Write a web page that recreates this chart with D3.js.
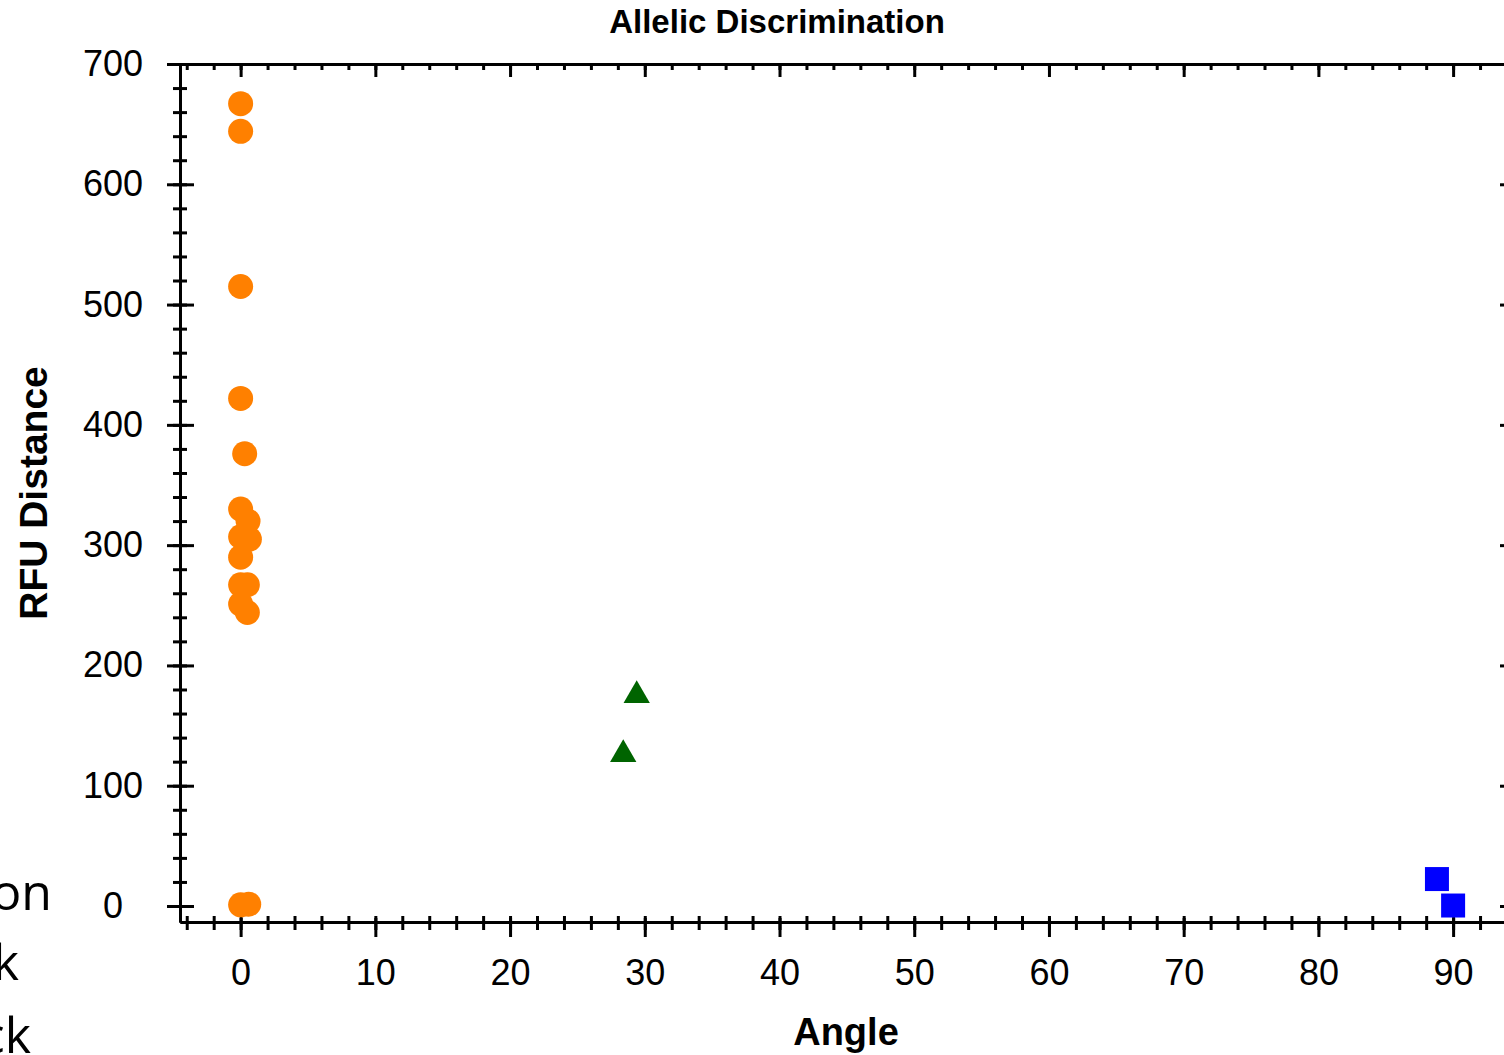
<!DOCTYPE html>
<html>
<head>
<meta charset="utf-8">
<script src="https://cdn.jsdelivr.net/npm/d3@7"></script>
<style>
  body { margin: 0; background: #fff; }
  svg { display: block; font-family: "Liberation Sans", Arial, sans-serif; }
</style>
</head>
<body>
<div id="chart"></div>
<script>
// Allele 1 calls (orange circles)
var allele1Angle = [0, 0, 0, 0, 0.3, 0, 0.55, 0, 0.65, 0, 0, 0.5, 0, 0.5, 0, 0.6];
var allele1Rfu = [667, 644, 515, 422, 376, 330, 320, 307, 305, 290, 267, 267, 251, 244, 1, 1.5];

// Heterozygote calls (green triangles)
var heteroAngle = [29.4, 28.4];
var heteroRfu = [175, 126];

// Allele 2 calls (blue squares)
var allele2Angle = [88.8, 90.0];
var allele2Rfu = [22.4, 0.4];

// Tick values
var xTickValues = [0, 10, 20, 30, 40, 50, 60, 70, 80, 90];
var yTickValues = [0, 100, 200, 300, 400, 500, 600, 700];

// Text cut off at the left edge of the slide
var slideText = ["on", "k", "ck"];

var svgWidth = 1504;
var svgHeight = 1055;

var svg = d3.select("#chart")
  .append("svg")
  .attr("width", svgWidth)
  .attr("height", svgHeight);

var x = d3.scaleLinear().domain([-4.5, 94]).range([180, 1507]);
var y = d3.scaleLinear().domain([-13.3, 700]).range([922, 64]);

var fontFamily = '"Liberation Sans", Arial, sans-serif';

function styleAxis(g) {
  g.attr("font-family", fontFamily).attr("font-size", 36);
  g.select(".domain").attr("stroke", "#000").attr("stroke-width", 3);
  g.selectAll(".tick line").attr("stroke", "#000").attr("stroke-width", 3);
  g.selectAll(".tick text").attr("fill", "#000");
}

// Bottom axis: minor then major ticks, both crossing the line
var bottomMinor = svg.append("g")
  .attr("transform", "translate(0,922)")
  .call(d3.axisBottom(x).tickValues(d3.range(-4, 94, 2)).tickFormat("").tickSizeOuter(0));
styleAxis(bottomMinor);
bottomMinor.selectAll(".tick line").attr("y1", -6).attr("y2", 8);

var bottomMajor = svg.append("g")
  .attr("transform", "translate(0,922)")
  .call(d3.axisBottom(x).tickValues(xTickValues).tickSizeOuter(0));
styleAxis(bottomMajor);
bottomMajor.selectAll(".tick line").attr("y1", -4).attr("y2", 15);
bottomMajor.selectAll(".tick text").attr("y", 63).attr("dy", 0);

// Top axis, ticks pointing inward
var topMinor = svg.append("g")
  .attr("transform", "translate(0,64)")
  .call(d3.axisTop(x).tickValues(d3.range(-4, 94, 2)).tickFormat("").tickSizeOuter(0));
styleAxis(topMinor);
topMinor.selectAll(".tick line").attr("y1", 0).attr("y2", 6);

var topMajor = svg.append("g")
  .attr("transform", "translate(0,64)")
  .call(d3.axisTop(x).tickValues(xTickValues).tickFormat("").tickSizeOuter(0));
styleAxis(topMajor);
topMajor.select(".domain").remove();
topMajor.selectAll(".tick line").attr("y1", 0).attr("y2", 13);

// Left axis
var leftMinor = svg.append("g")
  .attr("transform", "translate(180,0)")
  .call(d3.axisLeft(y).tickValues(d3.range(0, 701, 20)).tickFormat("").tickSizeOuter(0));
styleAxis(leftMinor);
leftMinor.selectAll(".tick line").attr("x1", -7).attr("x2", 7);

var leftMajor = svg.append("g")
  .attr("transform", "translate(180,0)")
  .call(d3.axisLeft(y).tickValues(yTickValues).tickSizeOuter(0));
styleAxis(leftMajor);
leftMajor.selectAll(".tick line").attr("x1", -13).attr("x2", 14);
leftMajor.selectAll(".tick text")
  .attr("x", -67)
  .attr("text-anchor", "middle");

// Right axis (line sits just past the edge)
var rightMajor = svg.append("g")
  .attr("transform", "translate(1507,0)")
  .call(d3.axisRight(y).tickValues(yTickValues).tickFormat("").tickSizeOuter(0));
styleAxis(rightMajor);
rightMajor.selectAll(".tick line").attr("x1", 0).attr("x2", -7);

// Allele 1 circles
svg.append("g")
  .selectAll("circle")
  .data(d3.zip(allele1Angle, allele1Rfu))
  .enter()
  .append("circle")
  .attr("cx", d => x(d[0]))
  .attr("cy", d => y(d[1]))
  .attr("r", 12.5)
  .attr("fill", "#ff8000");

// Heterozygote triangles
svg.append("g")
  .selectAll("path")
  .data(d3.zip(heteroAngle, heteroRfu))
  .enter()
  .append("path")
  .attr("d", d3.symbol().type(d3.symbolTriangle).size(300))
  .attr("transform", d => "translate(" + x(d[0]) + "," + y(d[1]) + ")")
  .attr("fill", "#006400");

// Allele 2 squares
svg.append("g")
  .selectAll("path")
  .data(d3.zip(allele2Angle, allele2Rfu))
  .enter()
  .append("path")
  .attr("d", d3.symbol().type(d3.symbolSquare).size(576))
  .attr("transform", d => "translate(" + x(d[0]) + "," + y(d[1]) + ")")
  .attr("fill", "#0000ff");

// Titles
svg.append("text")
  .attr("x", 777)
  .attr("y", 33)
  .attr("text-anchor", "middle")
  .attr("font-size", 33)
  .attr("font-weight", "bold")
  .text("Allelic Discrimination");

svg.append("text")
  .attr("transform", "translate(47,493) rotate(-90)")
  .attr("text-anchor", "middle")
  .attr("font-size", 39)
  .attr("font-weight", "bold")
  .text("RFU Distance");

svg.append("text")
  .attr("x", 846)
  .attr("y", 1045)
  .attr("text-anchor", "middle")
  .attr("font-size", 38)
  .attr("font-weight", "bold")
  .text("Angle");

// Slide text fragments at the left edge
var slideX = [52, 19, 31];
var slideY = [910, 980, 1053];
svg.append("g")
  .selectAll("text")
  .data(slideText)
  .enter()
  .append("text")
  .attr("x", (d, i) => slideX[i])
  .attr("y", (d, i) => slideY[i])
  .attr("text-anchor", "end")
  .attr("font-family", '"Open Sans", "Noto Sans", sans-serif')
  .attr("font-size", 50)
  .attr("fill", "#000")
  .text(d => d);
</script>
</body>
</html>
